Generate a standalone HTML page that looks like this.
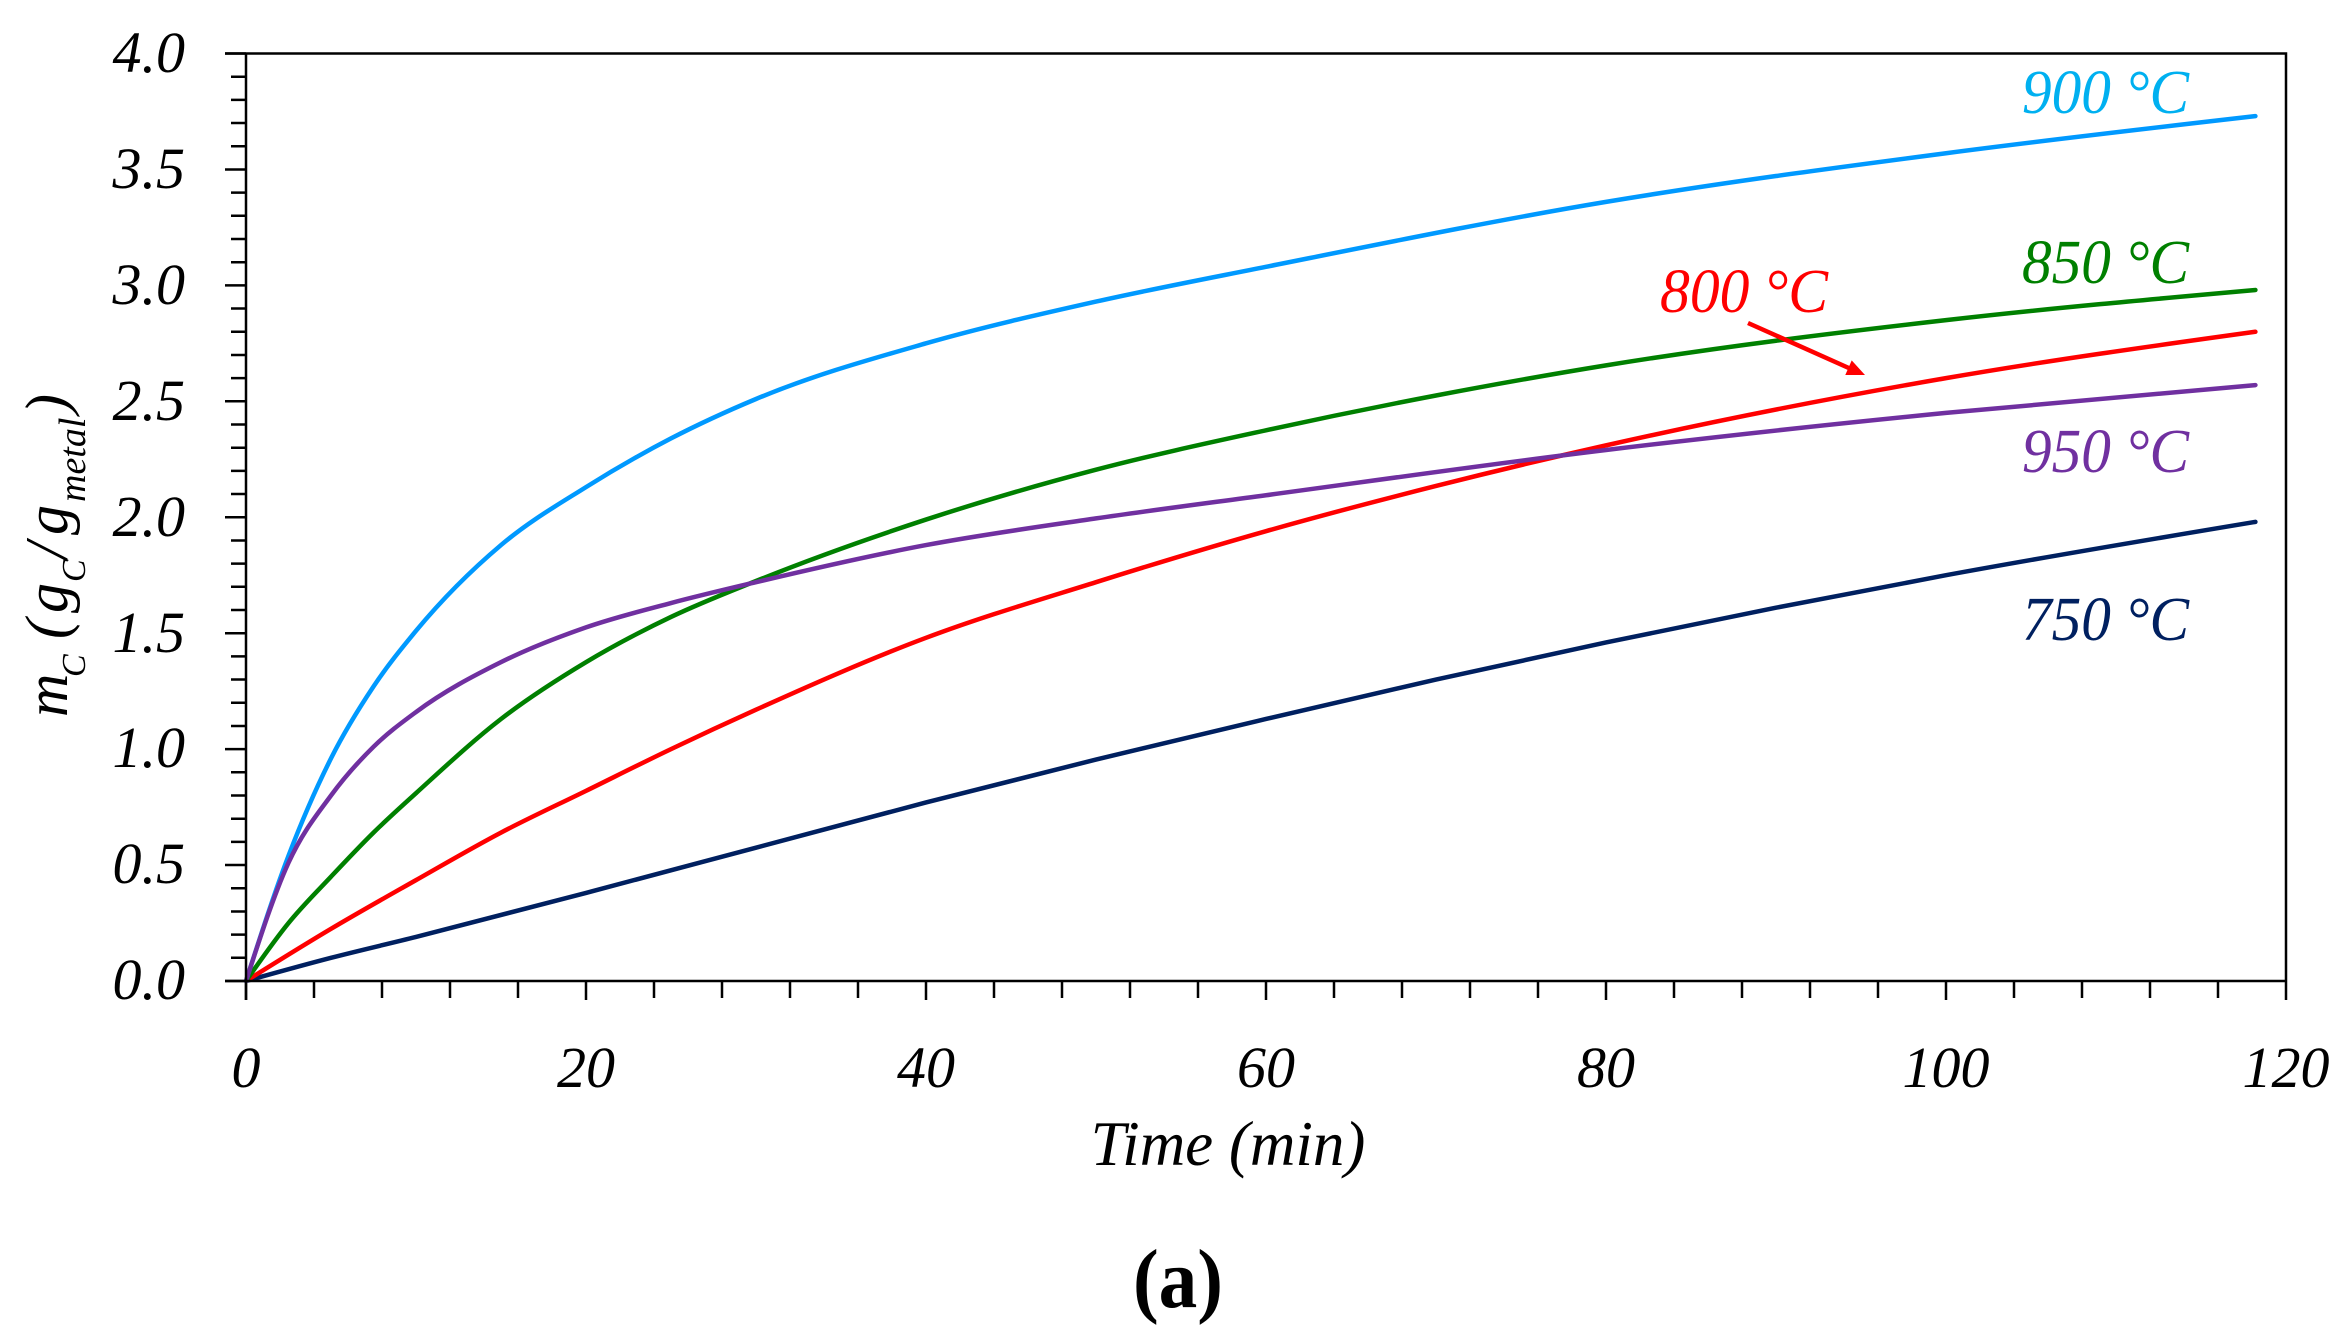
<!DOCTYPE html>
<html>
<head>
<meta charset="utf-8">
<style>
html,body{margin:0;padding:0;background:#fff;}
svg{display:block;}
text{font-family:"Liberation Serif",serif;}
</style>
</head>
<body>
<svg id="s" width="2350" height="1343" viewBox="0 0 2350 1343">
<rect x="0" y="0" width="2350" height="1343" fill="#fff"/>
<path id="ticks" fill="none" stroke="#000" stroke-width="2.5"/>
<g fill="none" stroke-width="4.5" stroke-linejoin="round" stroke-linecap="round">
  <path id="c750" stroke="#002060"/>
  <path id="c800" stroke="#FF0000"/>
  <path id="c850" stroke="#008000"/>
  <path id="c900" stroke="#0099FF"/>
  <path id="c950" stroke="#7030A0"/>
</g>
<path d="M225 53.5 H2286 V981 M246 53.5 V1000 M225 981 H2286" fill="none" stroke="#000" stroke-width="2.5"/>

<!-- arrow for 800 -->
<line x1="1748" y1="323" x2="1851" y2="369" stroke="#FF0000" stroke-width="4.5"/>
<polygon points="1865,375 1845.3,375 1851.7,360.4" fill="#FF0000"/>

<!-- y tick labels -->
<g font-style="italic" font-size="58" text-anchor="end" fill="#000">
  <text x="185" y="72">4.0</text>
  <text x="185" y="188">3.5</text>
  <text x="185" y="304">3.0</text>
  <text x="185" y="420">2.5</text>
  <text x="185" y="536">2.0</text>
  <text x="185" y="652">1.5</text>
  <text x="185" y="767">1.0</text>
  <text x="185" y="883">0.5</text>
  <text x="185" y="999">0.0</text>
</g>
<!-- x tick labels -->
<g font-style="italic" font-size="58" text-anchor="middle" fill="#000">
  <text x="246" y="1087">0</text>
  <text x="586" y="1087">20</text>
  <text x="926" y="1087">40</text>
  <text x="1266" y="1087">60</text>
  <text x="1606" y="1087">80</text>
  <text x="1946" y="1087">100</text>
  <text x="2286" y="1087">120</text>
</g>

<text x="1228" y="1165" font-style="italic" font-size="63" text-anchor="middle" fill="#000">Time (min)</text>
<text transform="translate(1178,1307) scale(0.92,1)" font-weight="bold" font-size="84" text-anchor="middle" fill="#000">(a)</text>

<!-- y axis title -->
<g transform="translate(67,717) rotate(-90)" font-style="italic" fill="#000">
  <text x="0" y="0" font-size="60">m</text>
  <text x="40" y="18" font-size="34">C</text>
  <text x="78" y="0" font-size="60">(</text>
  <text x="104" y="0" font-size="60">g</text>
  <text x="135" y="18" font-size="34">C</text>
  <text x="158" y="0" font-size="60">/</text>
  <text x="182" y="0" font-size="60">g</text>
  <text x="215" y="18" font-size="38">metal</text>
  <text x="303" y="0" font-size="60">)</text>
</g>

<!-- series labels -->
<g font-style="italic" font-size="62">
  <text x="2022" y="113" fill="#00B0F0" textLength="167" lengthAdjust="spacingAndGlyphs">900 °C</text>
  <text x="2022" y="283" fill="#008000" textLength="167" lengthAdjust="spacingAndGlyphs">850 °C</text>
  <text x="1660" y="312" fill="#FF0000" textLength="168" lengthAdjust="spacingAndGlyphs">800 °C</text>
  <text x="2022" y="472" fill="#7030A0" textLength="167" lengthAdjust="spacingAndGlyphs">950 °C</text>
  <text x="2022" y="640" fill="#002060" textLength="167" lengthAdjust="spacingAndGlyphs">750 °C</text>
</g>
</svg>
<script>
(function(){
  var X=function(t){return 246+t*17;};
  var Y=function(v){return 981-v*231.875;};
  var d="";
  for(var i=0;i<=40;i++){
    var v=i*0.1, y=Y(v);
    var x0=(i%5===0)?225:231;
    d+="M"+x0+" "+y.toFixed(2)+"H246";
  }
  for(var t=0;t<=120;t+=4){
    var x=X(t);
    var y1=(t%20===0)?1000:998;
    d+="M"+x+" 981V"+y1;
  }
  document.getElementById("ticks").setAttribute("d",d);

  function spline(pts){
    var n=pts.length,xs=[],ys=[],h=[],dd=[],m=[];
    for(var i=0;i<n;i++){xs.push(pts[i][0]);ys.push(pts[i][1]);}
    for(i=0;i<n-1;i++){h.push(xs[i+1]-xs[i]);dd.push((ys[i+1]-ys[i])/h[i]);}
    for(i=1;i<n-1;i++){
      if(dd[i-1]*dd[i]<=0){m[i]=0;}
      else{m[i]=(h[i]*dd[i-1]+h[i-1]*dd[i])/(h[i-1]+h[i]);
        var lim=3*Math.min(Math.abs(dd[i-1]),Math.abs(dd[i]));
        if(Math.abs(m[i])>lim)m[i]=lim*(m[i]>0?1:-1);}
    }
    m[0]=Math.max(0,(3*dd[0]-m[1])/2);
    m[n-1]=Math.max(0,(3*dd[n-2]-m[n-2])/2);
    var p="M"+X(xs[0]).toFixed(2)+" "+Y(ys[0]).toFixed(2);
    for(i=0;i<n-1;i++){
      var hh=h[i];
      var c1x=xs[i]+hh/3,c1y=ys[i]+m[i]*hh/3;
      var c2x=xs[i+1]-hh/3,c2y=ys[i+1]-m[i+1]*hh/3;
      p+="C"+X(c1x).toFixed(2)+" "+Y(c1y).toFixed(2)+" "+X(c2x).toFixed(2)+" "+Y(c2y).toFixed(2)+" "+X(xs[i+1]).toFixed(2)+" "+Y(ys[i+1]).toFixed(2);
    }
    return p;
  }
  var data={
    c900:[[0,0],[2.5,0.54],[5,0.96],[7.5,1.27],[10,1.51],[15,1.88],[20,2.13],[25,2.34],[30,2.51],[40,2.75],[50,2.93],[60,3.08],[80,3.36],[100,3.57],[118.2,3.73]],
    c950:[[0,0],[2.5,0.51],[5,0.80],[7.5,1.01],[10,1.16],[15,1.375],[20,1.525],[25,1.63],[30,1.72],[40,1.88],[50,1.995],[60,2.095],[80,2.29],[100,2.45],[118.2,2.57]],
    c850:[[0,0],[2.5,0.25],[5,0.45],[7.5,0.64],[10,0.81],[15,1.13],[20,1.375],[25,1.57],[30,1.725],[40,1.99],[50,2.205],[60,2.375],[70,2.525],[80,2.655],[100,2.85],[118.2,2.98]],
    c800:[[0,0],[5,0.225],[10,0.435],[15,0.64],[20,0.82],[25,1.0],[30,1.17],[40,1.48],[50,1.72],[60,1.94],[70,2.135],[80,2.31],[100,2.60],[118.2,2.80]],
    c750:[[0,0],[5,0.10],[10,0.19],[20,0.38],[30,0.575],[40,0.77],[50,0.955],[60,1.13],[70,1.30],[80,1.46],[90,1.61],[100,1.75],[118.2,1.98]]
  };
  for(var k in data){document.getElementById(k).setAttribute("d",spline(data[k]));}
})();
</script>
</body>
</html>
